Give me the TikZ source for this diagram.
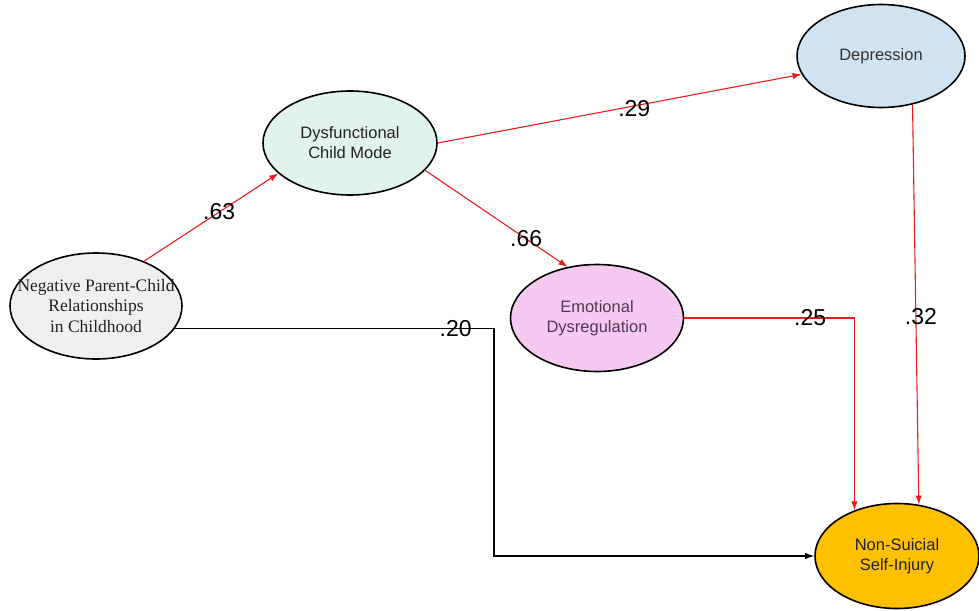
\documentclass[tikz,border=0pt]{standalone}
\usepackage{fontspec}
\setmainfont{Liberation Sans}
\newfontfamily\timesfont{Liberation Serif}
\usepackage{tikz}
\usetikzlibrary{shapes.geometric, arrows.meta, positioning, calc}
\definecolor{pathred}{RGB}{232, 28, 28}
\definecolor{greyfill}{RGB}{240, 240, 240}
\definecolor{mintfill}{RGB}{224, 243, 238}
\definecolor{bluefill}{RGB}{208, 227, 243}
\definecolor{pinkfill}{RGB}{246, 202, 240}
\definecolor{goldfill}{RGB}{255, 192, 0}
\definecolor{darktext}{RGB}{34, 34, 34}
\definecolor{plumtext}{RGB}{80, 56, 84}

\begin{document}
\begin{tikzpicture}[
    x=1pt, y=1pt,
    latent/.style={ellipse, draw=black, line width=1.6pt, align=center, inner sep=0pt, text=darktext,
        font=\fontsize{16.5}{20}\selectfont},
    effect/.style={draw=pathred, line width=1.1pt, -{Latex[length=9pt,width=6.5pt]}},
    direct/.style={draw=black, line width=1.1pt, -{Latex[length=9pt,width=6.5pt]}},
    coef/.style={font=\fontsize{23}{23}\selectfont, inner sep=0pt, text=black}
]
\useasboundingbox (0,0) rectangle (979,-610);

\node [latent, fill=greyfill, minimum width=172, minimum height=106, inner xsep=-20pt,
       font=\timesfont\fontsize{17.5}{20.5}\selectfont] (parent) at (96,-306)
       {Negative Parent-Child\\Relationships\\in Childhood};
\node [latent, fill=mintfill, minimum width=174, minimum height=104] (childmode) at (350,-143)
       {Dysfunctional\\Child Mode};
\node [latent, fill=bluefill, minimum width=168, minimum height=103, text=black!80] (depress) at (881,-56)
       {Depression};
\node [latent, fill=pinkfill, minimum width=173, minimum height=107, text=plumtext] (emoreg) at (597,-318)
       {Emotional\\Dysregulation};
\node [latent, fill=goldfill, minimum width=164, minimum height=105] (nssi) at (897,-556)
       {Non-Suicial\\Self-Injury};

\coordinate (corner) at (494,-556);

\path [effect] (parent.43) -- node[coef, pos=0.56]{.63} (childmode.203);
\path [effect] (childmode.east) -- node[coef, pos=0.54, yshift=-3]{.29} (depress.193);
\path [effect] (childmode.-20) -- node[coef, pos=0.71]{.66} (emoreg.120);
\path [effect] (emoreg.east) -| node[coef, pos=0.37]{.25} (nssi.133);
\path [effect] (depress.-57) -- node[coef, pos=0.53, xshift=5]{.32} (nssi.67);
\path [direct] (parent.-16) -| node[coef, pos=0.44]{.20} (corner) -- (nssi.west);

\end{tikzpicture}
\end{document}
